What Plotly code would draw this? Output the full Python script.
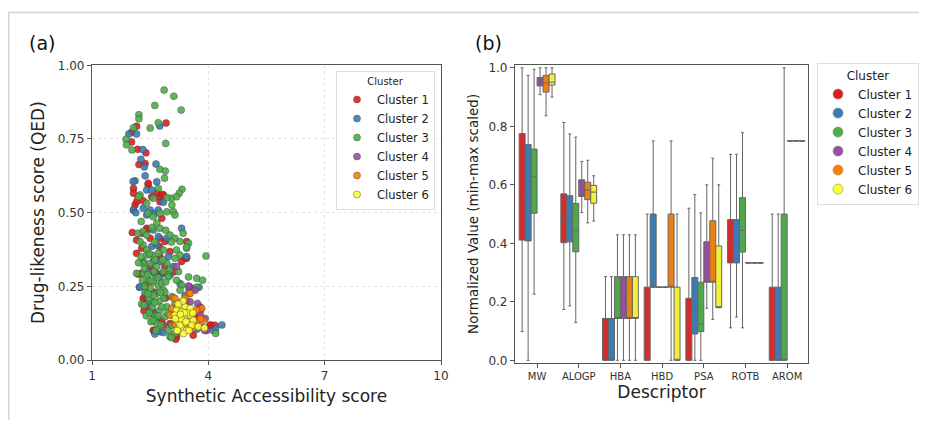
import plotly.graph_objects as go

# ---------------- Data ----------------
CLUSTERS = ["Cluster 1", "Cluster 2", "Cluster 3", "Cluster 4", "Cluster 5", "Cluster 6"]
SCATTER_COLORS = ["#e41a1c", "#377eb8", "#4daf4a", "#984ea3", "#ff7f00", "#ffff33"]
BOX_COLORS = ["#d62a2b", "#3b7cb5", "#4fa84c", "#944f9f", "#f07f12", "#f0f03c"]

# (SA score, QED) per cluster
C1 = [(2.91,0.804),(2.15,0.793),(2.02,0.740),(2.02,0.773),(2.18,0.715),(2.39,0.703),(2.21,0.663),(2.37,0.667),
      (2.84,0.560),(2.45,0.594),(2.07,0.582),(2.19,0.554),(2.54,0.554),(2.74,0.554),(2.45,0.600),(2.67,0.566),(2.82,0.562),
      (2.11,0.526),(2.07,0.566),(2.07,0.509),(2.15,0.537),(2.32,0.540),(2.75,0.537),(2.80,0.481),
      (2.04,0.433),(2.15,0.407),(2.15,0.362),(2.41,0.447),(2.50,0.413),(2.75,0.413),(2.28,0.379),(2.28,0.430),(2.41,0.440),(2.74,0.385),
      (2.88,0.402),(3.01,0.368),(3.44,0.402),(3.40,0.345),(3.44,0.345),(2.75,0.351),(2.50,0.317),(2.88,0.317),(3.31,0.334),
      (2.28,0.294),(2.67,0.294),(2.84,0.294),(2.20,0.291),(2.50,0.299),(3.10,0.299),(2.40,0.260),(2.62,0.230),(2.90,0.210),(2.34,0.210),
      (2.32,0.209),(2.45,0.181),(2.34,0.167),(2.58,0.164),(2.80,0.135),(2.84,0.118),(3.01,0.124),(2.58,0.101),(2.60,0.100),
      (3.44,0.198),(3.80,0.170),(4.04,0.118),(4.06,0.119),(4.17,0.118),(3.61,0.084),(3.18,0.079),(3.16,0.070),(3.31,0.158),(3.74,0.147)]
C2 = [(2.75,0.794),(1.95,0.767),(2.15,0.767),(2.31,0.714),(2.26,0.681),(2.35,0.655),(2.65,0.665),(2.37,0.625),
      (2.11,0.608),(2.41,0.577),(2.67,0.605),(2.54,0.577),(2.06,0.606),(2.07,0.509),(2.13,0.500),
      (2.32,0.515),(2.50,0.509),(2.63,0.498),(2.71,0.509),(2.84,0.535),(2.41,0.492),(3.31,0.447),(2.58,0.441),(2.71,0.419),
      (2.54,0.385),(2.93,0.413),(2.67,0.390),(2.97,0.351),(3.44,0.351),(2.58,0.334),(2.75,0.334),(2.32,0.334),(3.10,0.317),(2.45,0.300),
      (2.22,0.247),(2.24,0.248),(2.37,0.226),(2.63,0.291),(2.75,0.282),(3.01,0.288),(2.45,0.192),(2.54,0.158),(2.67,0.141),(2.75,0.096),
      (2.62,0.088),(2.84,0.093),(3.10,0.152),(3.76,0.247),(3.70,0.104),(3.40,0.220),(3.27,0.260),(4.13,0.100),(4.19,0.106),(4.35,0.119)]
C3 = [(2.86,0.916),(3.11,0.895),(2.62,0.864),(3.30,0.848),(2.21,0.832),(2.21,0.819),(2.71,0.805),(2.50,0.787),(2.07,0.788),(2.90,0.735),
      (1.88,0.749),(1.89,0.730),(2.03,0.713),
      (2.75,0.647),(2.89,0.641),(2.87,0.617),(3.32,0.579),(3.25,0.566),(2.71,0.582),(3.05,0.549),(2.24,0.560),(2.41,0.532),
      (2.20,0.554),(2.58,0.549),(2.93,0.551),(3.18,0.554),(3.06,0.526),(2.45,0.498),(2.58,0.486),(2.75,0.498),(2.93,0.503),(3.10,0.503),(3.14,0.492),
      (2.67,0.464),(2.75,0.447),(2.32,0.436),(2.41,0.424),(3.01,0.424),(3.14,0.413),(3.27,0.402),(3.44,0.379),(3.49,0.396),(3.44,0.383),
      (2.32,0.390),(2.41,0.373),(2.24,0.402),(2.84,0.373),(3.18,0.373),(3.27,0.356),(3.14,0.345),(2.41,0.356),(2.54,0.356),(2.71,0.362),(3.94,0.353),
      (2.32,0.328),(2.93,0.328),(3.01,0.305),(3.23,0.300),(2.50,0.328),(2.67,0.317),(2.84,0.300),(2.97,0.289),(2.15,0.294),
      (2.32,0.294),(2.45,0.271),(2.58,0.265),(2.71,0.254),(2.84,0.237),(2.97,0.282),(3.18,0.271),(3.31,0.254),(3.49,0.282),(3.70,0.277),
      (3.85,0.271),(3.61,0.243),(3.70,0.247),
      (2.50,0.243),(2.67,0.226),(2.84,0.209),(2.54,0.203),(2.93,0.181),(2.75,0.169),(3.06,0.215),(3.14,0.192),(2.88,0.147),(2.97,0.101),
      (3.14,0.090),(3.01,0.079),(3.05,0.076),(2.67,0.124),(3.27,0.237),(4.19,0.090),(3.06,0.118),(3.23,0.101),
      (2.30,0.270),(2.38,0.230),(2.47,0.210),(2.56,0.180),(2.62,0.150),(2.72,0.200),(2.80,0.260),(2.88,0.230),(2.28,0.190),(2.40,0.150),
      (2.52,0.130),(2.65,0.100),(2.95,0.160),(2.35,0.310),(2.60,0.300),(2.78,0.120),(2.20,0.330),(2.48,0.360),(2.62,0.400),(2.18,0.430),
      (2.27,0.470),(2.55,0.450),(2.90,0.440),(3.05,0.400),(3.35,0.430),(3.50,0.240),
      (2.36,0.250),(2.44,0.290),(2.58,0.220),(2.70,0.280),(2.76,0.230),(2.52,0.270),(2.62,0.195),(2.44,0.225),(2.34,0.185),
      (2.70,0.150),(2.80,0.180),(2.58,0.135),(2.48,0.160),(2.90,0.265),(2.26,0.350),(2.62,0.340),(2.82,0.340)]
C4 = [(3.51,0.249),(3.18,0.317),(3.96,0.100),(3.91,0.100),(3.79,0.180),(3.49,0.251),(3.53,0.198),(3.72,0.192),
      (3.79,0.158),(3.92,0.141),(3.79,0.175),(3.66,0.237),(3.60,0.130),(3.68,0.120),(3.85,0.110)]
C5 = [(3.51,0.226),(3.83,0.175),(3.10,0.211),(3.53,0.226),(3.14,0.209),(3.31,0.198),(3.06,0.175),(3.01,0.152),
      (3.44,0.169),(3.61,0.158),(3.18,0.135),(3.70,0.124),(3.87,0.135),(3.61,0.107),(3.36,0.135),(3.25,0.190),
      (3.40,0.210),(3.20,0.180),(3.30,0.120),(3.50,0.140),(3.80,0.140),(3.15,0.120),(3.70,0.170),(3.45,0.120)]
C6 = [(3.27,0.186),(3.40,0.181),(3.18,0.169),(3.31,0.164),(3.53,0.175),(3.14,0.152),(3.27,0.147),(3.40,0.147),
      (3.53,0.152),(3.23,0.130),(3.36,0.124),(3.49,0.130),(3.61,0.135),(3.31,0.107),(3.44,0.101),(3.57,0.118),
      (3.74,0.113),(3.18,0.101),(3.36,0.090),(3.27,0.118),(3.90,0.109),(3.20,0.100),(3.45,0.160),(3.35,0.200),
      (3.22,0.190),(3.60,0.160),(3.30,0.140),(3.42,0.130),(3.15,0.140),(3.50,0.100),(3.38,0.160),(3.28,0.155)]
SCATTER_DATA = [C1, C2, C3, C4, C5, C6]

# Box statistics (min-max scaled) per cluster, per descriptor
DESCRIPTORS = ["MW", "ALOGP", "HBA", "HBD", "PSA", "ROTB", "AROM"]
Q1 = [
    [0.411, 0.402, 0.000, 0.000, 0.000, 0.333, 0.000],
    [0.408, 0.405, 0.000, 0.250, 0.090, 0.333, 0.000],
    [0.503, 0.371, 0.143, 0.250, 0.098, 0.370, 0.000],
    [0.938, 0.560, 0.143, 0.250, 0.267, 0.333, 0.750],
    [0.917, 0.549, 0.143, 0.250, 0.267, 0.333, 0.750],
    [0.941, 0.537, 0.143, 0.000, 0.180, 0.333, 0.750],
]
MEDIAN = [
    [0.562, 0.478, 0.000, 0.000, 0.042, 0.407, 0.000],
    [0.569, 0.478, 0.000, 0.250, 0.186, 0.407, 0.000],
    [0.627, 0.445, 0.143, 0.250, 0.124, 0.444, 0.000],
    [0.953, 0.592, 0.214, 0.250, 0.267, 0.333, 0.750],
    [0.948, 0.582, 0.143, 0.250, 0.267, 0.333, 0.750],
    [0.951, 0.575, 0.143, 0.000, 0.180, 0.333, 0.750],
]
Q3 = [
    [0.775, 0.569, 0.143, 0.250, 0.212, 0.481, 0.250],
    [0.738, 0.563, 0.143, 0.500, 0.283, 0.481, 0.250],
    [0.722, 0.536, 0.286, 0.250, 0.267, 0.556, 0.500],
    [0.967, 0.617, 0.286, 0.250, 0.405, 0.333, 0.750],
    [0.974, 0.609, 0.286, 0.500, 0.477, 0.333, 0.750],
    [0.979, 0.598, 0.286, 0.250, 0.391, 0.333, 0.750],
]
LOWER = [
    [0.098, 0.174, 0.000, 0.000, 0.000, 0.111, 0.000],
    [0.000, 0.186, 0.000, 0.250, 0.000, 0.148, 0.000],
    [0.226, 0.129, 0.000, 0.250, 0.000, 0.111, 0.000],
    [0.908, 0.505, 0.000, 0.250, 0.178, 0.333, 0.750],
    [0.836, 0.470, 0.000, 0.000, 0.140, 0.333, 0.750],
    [0.900, 0.476, 0.000, 0.000, 0.180, 0.333, 0.750],
]
UPPER = [
    [1.000, 0.813, 0.286, 0.500, 0.520, 0.704, 0.500],
    [0.974, 0.774, 0.286, 0.750, 0.567, 0.704, 0.500],
    [0.995, 0.763, 0.429, 0.250, 0.504, 0.778, 1.000],
    [1.000, 0.680, 0.429, 0.250, 0.600, 0.333, 0.750],
    [1.000, 0.684, 0.429, 0.750, 0.691, 0.333, 0.750],
    [1.000, 0.631, 0.429, 0.500, 0.600, 0.333, 0.750],
]

FONT = "DejaVu Sans"
# The page body has an 8 px margin; the figure is sized so the page fits the 927x428 window.
PAGE_MARGIN = 8
W, H = 927 - 2 * PAGE_MARGIN, 428 - 2 * PAGE_MARGIN


def fx(px):
    return (px - PAGE_MARGIN) / W


def fy(py):
    return 1 - (py - PAGE_MARGIN) / H


fig = go.Figure()

# ---------------- Panel (a): scatter ----------------
for name, col, pts in zip(CLUSTERS, SCATTER_COLORS, SCATTER_DATA):
    fig.add_trace(go.Scatter(
        x=[p[0] for p in pts], y=[p[1] for p in pts], mode="markers", name=name,
        marker=dict(color=col, size=7, opacity=0.9, line=dict(color="#404040", width=0.5)),
        xaxis="x", yaxis="y", legend="legend",
    ))

# ---------------- Panel (b): boxes ----------------
for i, name in enumerate(CLUSTERS):
    fig.add_trace(go.Box(
        x=DESCRIPTORS, q1=Q1[i], median=MEDIAN[i], q3=Q3[i],
        lowerfence=LOWER[i], upperfence=UPPER[i],
        name=name, fillcolor=BOX_COLORS[i],
        line=dict(color="#666666", width=1), whiskerwidth=0.5,
        boxpoints=False, showlegend=False, xaxis="x2", yaxis="y2",
    ))
for name, col in zip(CLUSTERS, SCATTER_COLORS):
    fig.add_trace(go.Scatter(
        x=[None], y=[None], mode="markers", name=name,
        marker=dict(color=col, size=10, line=dict(color="#888888", width=0.6)),
        xaxis="x2", yaxis="y2", legend="legend2",
    ))

axis_common = dict(showline=True, mirror=True, linecolor="#555555", linewidth=1.2,
                   ticks="outside", ticklen=4, tickcolor="#555555", automargin=False,
                   tickfont=dict(family=FONT, size=12, color="#333333"), zeroline=False)

fig.update_layout(
    width=W, height=H, margin=dict(l=0, r=0, t=0, b=0, autoexpand=False),
    paper_bgcolor="white", plot_bgcolor="white",
    font=dict(family=FONT, color="#222222"),
    boxmode="group", boxgap=0.14, boxgroupgap=0.0,
    xaxis=dict(domain=[fx(92), fx(441)], range=[1, 10], tickvals=[1, 4, 7, 10],
               showgrid=True, gridcolor="#e3e3e3", griddash="dot", gridwidth=1,
               title=dict(text="Synthetic Accessibility score", font=dict(family=FONT, size=17), standoff=8),
               anchor="y", **axis_common),
    yaxis=dict(domain=[fy(360), fy(65.3)], range=[0, 1],
               tickvals=[0, 0.25, 0.5, 0.75, 1.0], ticktext=["0.00", "0.25", "0.50", "0.75", "1.00"],
               showgrid=True, gridcolor="#e3e3e3", griddash="dot", gridwidth=1,
               title=dict(text="Drug-likeness score (QED)", font=dict(family=FONT, size=17), standoff=8),
               anchor="x", **axis_common),
    xaxis2=dict(domain=[fx(515), fx(808)], type="category", range=[-0.53, 6.5],
                showgrid=False,
                title=dict(text="Descriptor", font=dict(family=FONT, size=17), standoff=4),
                anchor="y2",
                **{**axis_common, "tickfont": dict(family=FONT, size=10, color="#333333")}),
    yaxis2=dict(domain=[fy(362.7), fy(65)], range=[-0.0082, 1.0096],
                tickvals=[0, 0.2, 0.4, 0.6, 0.8, 1.0], ticktext=["0.0", "0.2", "0.4", "0.6", "0.8", "1.0"],
                showgrid=False,
                title=dict(text="Normalized Value (min-max scaled)", font=dict(family=FONT, size=13.5), standoff=6),
                anchor="x2", **axis_common),
    legend=dict(x=fx(435), y=fy(71), xanchor="right", yanchor="top",
                bgcolor="rgba(255,255,255,0.9)", bordercolor="#dddddd", borderwidth=1,
                font=dict(family=FONT, size=11.5, color="#222222"),
                title=dict(text="Cluster", font=dict(family=FONT, size=10), side="top center"),
                itemsizing="trace", tracegroupgap=0),
    legend2=dict(x=1.0, y=fy(63), xanchor="right", yanchor="top",
                 bgcolor="white", bordercolor="#dddddd", borderwidth=1,
                 font=dict(family=FONT, size=12, color="#222222"),
                 title=dict(text="Cluster", font=dict(family=FONT, size=12), side="top center"),
                 itemsizing="trace", tracegroupgap=0),
    shapes=[dict(type="rect", xref="paper", yref="paper", x0=fx(8.7), x1=1.02, y0=-0.02, y1=fy(12.5),
                 line=dict(color="#d4d4d4", width=1.5), fillcolor="rgba(0,0,0,0)", layer="below")],
    annotations=[
        dict(text="(a)", x=fx(27), y=fy(43), xref="paper", yref="paper", xanchor="left", yanchor="middle",
             showarrow=False, font=dict(family=FONT, size=19, color="#111111")),
        dict(text="(b)", x=fx(473), y=fy(43), xref="paper", yref="paper", xanchor="left", yanchor="middle",
             showarrow=False, font=dict(family=FONT, size=19, color="#111111")),
    ],
)

fig.write_html("out.html", config={"displayModeBar": False})
